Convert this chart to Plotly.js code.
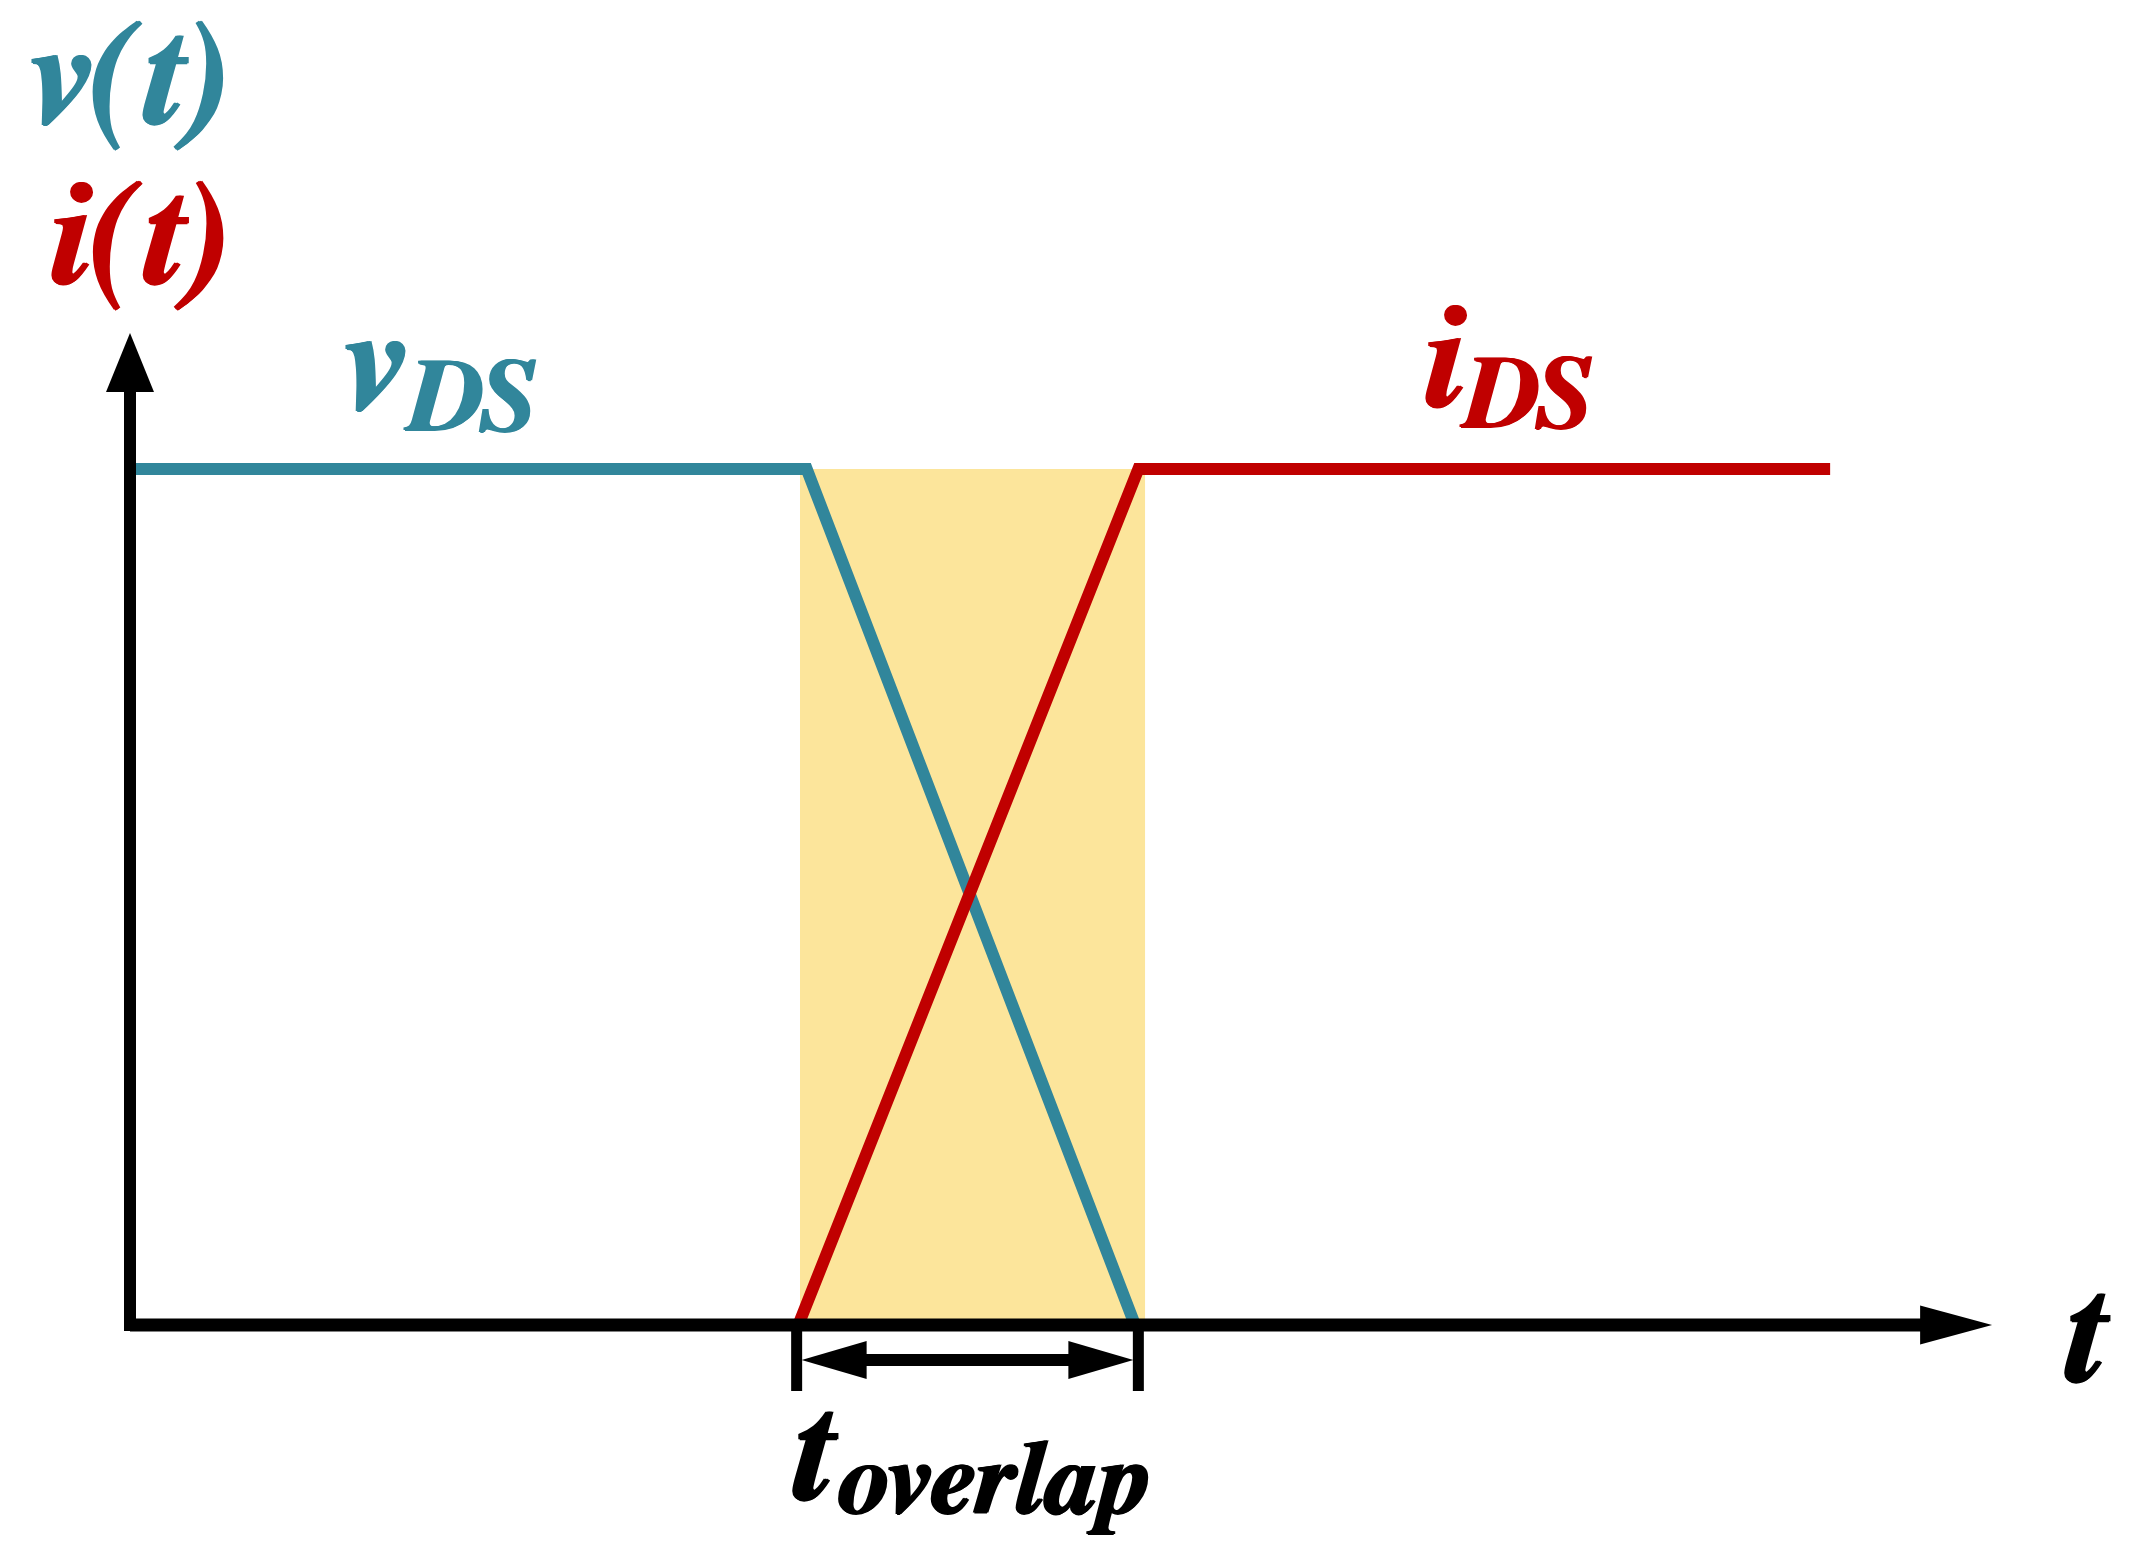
<!DOCTYPE html>
<html>
<head>
<meta charset="utf-8">
<script src="https://cdn.plot.ly/plotly-3.0.1.min.js"></script>
<style>html,body{margin:0;padding:0;background:#fff;}#chart{width:2145px;height:1554px;}</style>
</head>
<body>
<div id="chart"></div>
<script>
// ---- data (time in arbitrary units, amplitude normalised 0..1) ----
const vdsTime  = [0, 4.04, 6.0];
const vdsValue = [1, 1, 0];
const idsTime  = [3.99, 6.02, 10.15];
const idsValue = [0, 1, 1];
const overlapWindow = [4.0, 6.06];      // shaded switching interval
const overlapMarks  = [3.98, 6.02];     // t_overlap dimension marks
const axisEnds = {t: 11.117, a: 1.159}; // arrow tips of the axes

const labelV = ['v', '(', 't', ')'];
const labelI = ['i', '(', 't', ')'];

// ---- styles / layout helpers ----
const W = 2145, H = 1554;
const X0 = 130, SX = 167.5;   // pixel of t=0, px per t unit
const Y0 = 1325, SY = 856;    // pixel of a=0, px per a unit
const TEAL = '#31869B', RED = '#C00000', BLACK = '#000000', YELLOW = '#FCE59B';
const dx = p => p / SX, dy = p => p / SY;
const FONT = 'FreeSerif, Liberation Serif, serif';

const traces = [
  {x: vdsTime, y: vdsValue, mode: 'lines', line: {color: TEAL, width: 12}, hoverinfo: 'skip', showlegend: false},
  {x: idsTime, y: idsValue, mode: 'lines', line: {color: RED, width: 12}, hoverinfo: 'skip', showlegend: false}
];

const dimY = -dy(35), tickBottom = -dy(66);
const shapes = [
  {type: 'rect', layer: 'below', x0: overlapWindow[0], x1: overlapWindow[1], y0: 0, y1: 1,
   fillcolor: YELLOW, line: {width: 0}},
  // axes
  {type: 'line', x0: 0, x1: 0, y0: -dy(6), y1: axisEnds.a - dy(55), line: {color: BLACK, width: 12}},
  {type: 'line', x0: 0, x1: axisEnds.t - dx(68), y0: 0, y1: 0, line: {color: BLACK, width: 13}},
  {type: 'path', path: `M ${-dx(24)} ${axisEnds.a - dy(59)} L 0 ${axisEnds.a} L ${dx(24)} ${axisEnds.a - dy(59)} Z`,
   fillcolor: BLACK, line: {width: 0}},
  {type: 'path', path: `M ${axisEnds.t - dx(72)} ${dy(19.5)} L ${axisEnds.t} 0 L ${axisEnds.t - dx(72)} ${-dy(19.5)} Z`,
   fillcolor: BLACK, line: {width: 0}},
  // t_overlap marks
  {type: 'line', x0: overlapMarks[0], x1: overlapMarks[0], y0: 0, y1: tickBottom, line: {color: BLACK, width: 11}},
  {type: 'line', x0: overlapMarks[1], x1: overlapMarks[1], y0: 0, y1: tickBottom, line: {color: BLACK, width: 11}},
  {type: 'line', x0: overlapMarks[0] + dx(40), x1: overlapMarks[1] - dx(40), y0: dimY, y1: dimY, line: {color: BLACK, width: 12}},
  {type: 'path', path: `M ${overlapMarks[0] + dx(5)} ${dimY} L ${overlapMarks[0] + dx(70)} ${dimY + dy(19)} L ${overlapMarks[0] + dx(70)} ${dimY - dy(19)} Z`,
   fillcolor: BLACK, line: {width: 0}},
  {type: 'path', path: `M ${overlapMarks[1] - dx(5)} ${dimY} L ${overlapMarks[1] - dx(70)} ${dimY + dy(19)} L ${overlapMarks[1] - dx(70)} ${dimY - dy(19)} Z`,
   fillcolor: BLACK, line: {width: 0}}
];

// text placed by pixel left edge and baseline
function txt(text, left, baseline, size, color) {
  const centre = baseline - 0.34 * size;
  const s = `1.5px 0 0 ${color}, -1.5px 0 0 ${color}, 0 1px 0 ${color}`;
  return {text: text, xref: 'paper', yref: 'paper', x: left / W, y: 1 - centre / H,
          xanchor: 'left', yanchor: 'middle', showarrow: false, borderpad: 0,
          font: {family: FONT, size: size, color: color, weight: 'bold', style: 'italic', shadow: s}};
}
const BIG = 148, SMALL = 104;
const annotations = [
  txt(labelV.join(''), 24, 129, BIG, TEAL),
  txt(labelI.join(''), 46, 289, BIG, RED),
  txt('v', 338, 415, BIG, TEAL),
  txt('DS', 404, 434, SMALL, TEAL),
  txt('i', 1420, 412, BIG, RED),
  txt('DS', 1460, 431, SMALL, RED),
  txt('t', 788, 1505, BIG, BLACK),
  txt('overlap', 836, 1517, SMALL, BLACK),
  txt('t', 2060, 1387, BIG, BLACK)
];

const layout = {
  width: W, height: H,
  margin: {l: 0, r: 0, t: 0, b: 0, pad: 0},
  paper_bgcolor: '#ffffff', plot_bgcolor: '#ffffff',
  xaxis: {range: [-X0 / SX, (W - X0) / SX], visible: false, fixedrange: true},
  yaxis: {range: [(Y0 - H) / SY, Y0 / SY], visible: false, fixedrange: true},
  shapes: shapes, annotations: annotations, hovermode: false, showlegend: false
};

Plotly.newPlot('chart', traces, layout, {displayModeBar: false, staticPlot: true});
</script>
</body>
</html>
